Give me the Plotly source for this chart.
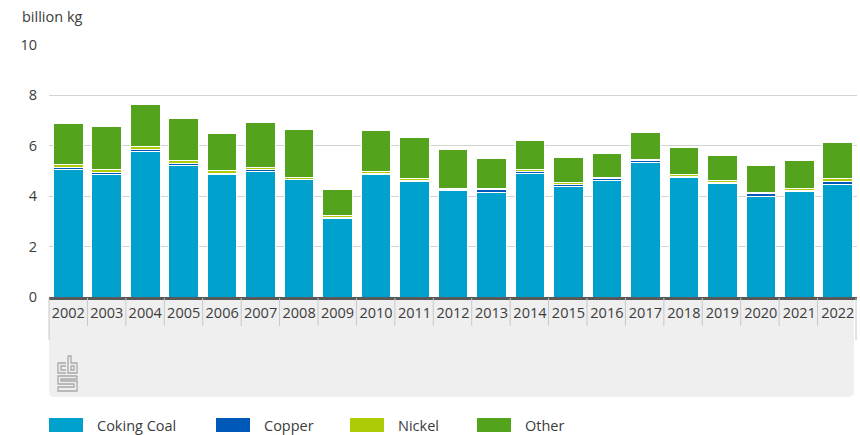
import plotly.graph_objects as go

years = [str(y) for y in range(2002, 2023)]
coking_coal = [5.05, 4.88, 5.78, 5.20, 4.85, 4.97, 4.65, 3.13, 4.86, 4.60, 4.24,
               4.15, 4.90, 4.37, 4.63, 5.33, 4.74, 4.50, 4.00, 4.19, 4.47]
copper = [0.08, 0.07, 0.07, 0.08, 0.07, 0.10, 0.03, 0.03, 0.03, 0.03, 0.02,
          0.12, 0.07, 0.10, 0.06, 0.07, 0.05, 0.06, 0.10, 0.04, 0.10]
nickel = [0.12, 0.10, 0.13, 0.15, 0.10, 0.08, 0.07, 0.07, 0.08, 0.07, 0.06,
          0.04, 0.08, 0.06, 0.06, 0.07, 0.08, 0.08, 0.05, 0.06, 0.13]
other = [1.65, 1.70, 1.65, 1.65, 1.48, 1.78, 1.90, 1.02, 1.63, 1.63, 1.55,
         1.20, 1.18, 1.00, 0.95, 1.05, 1.06, 0.96, 1.06, 1.11, 1.44]

series = [("Coking Coal", coking_coal, "#00a1cd"),
          ("Copper", copper, "#0058b8"),
          ("Nickel", nickel, "#afcb05"),
          ("Other", other, "#53a31d")]

W, H = 860, 435
L, R, T, B = 49, 857, 45, 297  # plot area in pixels


def px(x):
    return (x - L) / (R - L)


def py(y):
    return (B - y) / (B - T)


FONT = "Open Sans"
FS = 14.5
TXT = "#3c3c3c"

fig = go.Figure()
for name, vals, col in series:
    fig.add_trace(go.Bar(x=years, y=vals, name=name, marker_color=col,
                         marker_line_color="white", marker_line_width=1,
                         showlegend=False))

shapes = []
# gray label panel with rounded corners
x0, x1, y0, y1, r = px(49), px(854), py(298), py(397), 6
rx = r / (R - L)
ry = r / (B - T)
path = (f"M {x0} {y0} L {x1} {y0} L {x1} {y1 + ry} Q {x1} {y1} {x1 - rx} {y1} "
        f"L {x0 + rx} {y1} Q {x0} {y1} {x0} {y1 + ry} Z")
shapes.append(dict(type="path", path=path, xref="paper", yref="paper",
                   fillcolor="#efefef", line=dict(width=0), layer="below"))
# category separators
for i in range(len(years) + 1):
    xp = px(49) + i * (px(856) - px(49)) / len(years)
    yend = py(340) if i in (0, len(years)) else py(326)
    shapes.append(dict(type="line", xref="paper", yref="paper",
                       x0=xp, x1=xp, y0=py(298), y1=yend,
                       line=dict(color="#c8c8c8", width=1)))

# cbs logo approximation
lg = "#a8a8a8"
logo_paths = [
    # c
    [(66, 363), (58, 363), (58, 373), (66, 373)],
    [(66, 366), (61, 366), (61, 370), (66, 370)],
    # b
    [(68, 356), (68, 373), (77, 373), (77, 363), (71, 363), (71, 356), (68, 356)],
    [(71, 366), (74, 366), (74, 370), (71, 370), (71, 366)],
    # s
    [(77, 376), (58, 376), (58, 384), (74, 384), (74, 387), (58, 387), (58, 391), (77, 391),
     (77, 381), (61, 381), (61, 379), (77, 379), (77, 376)],
]
for pts in logo_paths:
    d = "M " + " L ".join(f"{px(a)} {py(b)}" for a, b in pts)
    shapes.append(dict(type="path", path=d, xref="paper", yref="paper",
                       line=dict(color=lg, width=1.3)))

annotations = [dict(text="billion kg", x=px(20), y=py(17), xref="paper", yref="paper",
                    xanchor="left", yanchor="middle", showarrow=False,
                    font=dict(family=FONT, size=FS, color=TXT))]

# custom legend
leg = [("Coking Coal", "#00a1cd", 49), ("Copper", "#0058b8", 216),
       ("Nickel", "#afcb05", 350), ("Other", "#53a31d", 477)]
for name, col, lx in leg:
    shapes.append(dict(type="rect", xref="paper", yref="paper",
                       x0=px(lx), x1=px(lx + 34), y0=py(418), y1=py(432),
                       fillcolor=col, line=dict(width=0)))
    annotations.append(dict(text=name, x=px(lx + 46), y=py(425.5), xref="paper",
                            yref="paper", xanchor="left", yanchor="middle",
                            showarrow=False,
                            font=dict(family=FONT, size=FS, color=TXT)))

fig.update_layout(
    width=W, height=H,
    margin=dict(l=L, r=W - R, t=T, b=H - B, pad=0),
    barmode="stack", bargap=0.23,
    plot_bgcolor="white", paper_bgcolor="white",
    shapes=shapes, annotations=annotations,
    font=dict(family=FONT, size=FS, color=TXT),
    xaxis=dict(showline=True, linecolor="#595959", linewidth=2.5, ticks="",
               showgrid=False, tickfont=dict(family=FONT, size=FS, color=TXT),
               ticklabelstandoff=1, fixedrange=True),
    yaxis=dict(range=[0, 10], tickvals=[0, 2, 4, 6, 8, 10], showgrid=True,
               gridcolor="#d4d4d4", gridwidth=1, zeroline=False, ticks="",
               ticklabelstandoff=11, tickfont=dict(family=FONT, size=FS, color=TXT),
               fixedrange=True),
    showlegend=False,
)

fig.write_html("out.html")
